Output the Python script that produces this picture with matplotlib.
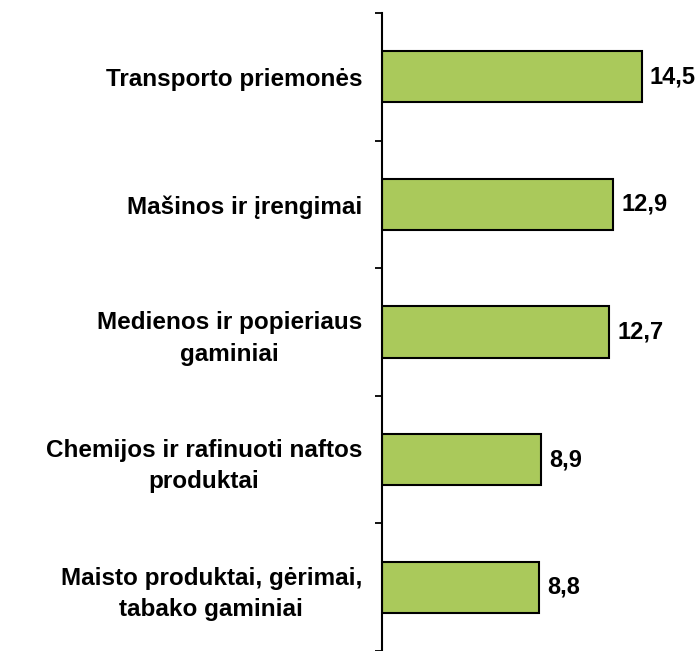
import matplotlib
matplotlib.use("Agg")
import matplotlib.pyplot as plt
import numpy as np

plt.rcParams['font.family'] = ['Liberation Sans', 'DejaVu Sans']

kategorijos = ["Transporto priemonės",
               "Mašinos ir įrengimai",
               "Medienos ir popieriaus\ngaminiai",
               "Chemijos ir rafinuoti naftos\nproduktai",
               "Maisto produktai, gėrimai,\ntabako gaminiai"]
reiksmes = [14.5, 12.9, 12.7, 8.9, 8.8]
etiketes = ["14,5", "12,9", "12,7", "8,9", "8,8"]

fig = plt.figure(figsize=(7.0, 6.51), dpi=100)
ax = fig.add_axes([381.5 / 700, 0.0, 1 - 381.5 / 700, 1 - 13 / 651])

y = np.arange(len(kategorijos))
ax.barh(y, reiksmes, height=0.4, color='#AAC95B', edgecolor='black', linewidth=1.5)

for yi, v, t in zip(y, reiksmes, etiketes):
    ax.annotate(t, (v, yi), xytext=(6, 0), textcoords='offset points',
                va='center', ha='left', fontsize=17, fontweight='bold')

ax.set_xlim(0, (700 - 381.5) / 17.94)
ax.set_ylim(len(kategorijos) - 0.5, -0.5)

ax.set_yticks(y)
ax.set_yticklabels(kategorijos, fontsize=17.5, fontweight='bold',
                   multialignment='center', linespacing=1.45)
ax.set_yticks(np.arange(-0.5, len(kategorijos)), minor=True)
ax.tick_params(axis='y', which='major', length=0, pad=14)
ax.tick_params(axis='y', which='minor', length=5, width=1.3, direction='out')
ax.set_xticks([])

for s in ['top', 'right', 'bottom']:
    ax.spines[s].set_visible(False)
ax.spines['left'].set_linewidth(1.5)

fig.savefig("out.png", dpi=100)
